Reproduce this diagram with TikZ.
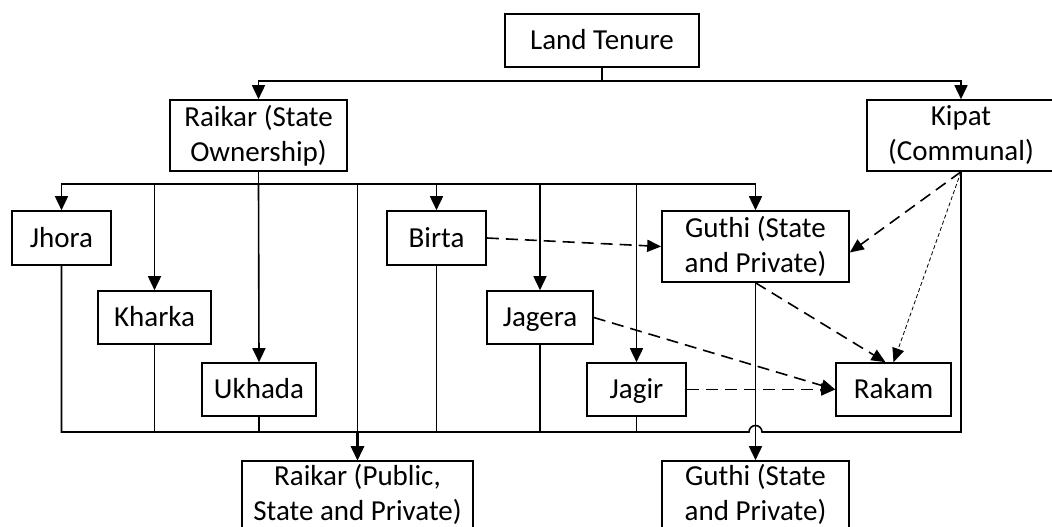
\documentclass[tikz,border=0pt]{standalone}
\usepackage{fontspec}
\setmainfont{Carlito}
\usetikzlibrary{arrows.meta}
\begin{document}
\begin{tikzpicture}[x=1pt,y=-1pt,
  box/.style={draw,line width=1.6pt,inner sep=0pt,align=center,font=\fontsize{29}{35}\selectfont},
  one/.style={box,text height=22pt,text depth=3.3pt,minimum height=53pt},
  two/.style={box,minimum height=71pt},
  con/.style={line width=1.6pt},
  arr/.style={con,-{Triangle[length=14pt,width=13pt]}},
  darr/.style={line width=1.6pt,dash pattern=on 12pt off 7pt,-{Triangle[length=14pt,width=12pt]}},
  dotarr/.style={line width=0.8pt,dash pattern=on 4pt off 2.5pt,-{Triangle[length=14pt,width=12pt]}}]
\useasboundingbox (0,0) rectangle (1052,527);
\clip (0,0) rectangle (1052,527);
% nodes
\node[one,minimum width=194pt] (tenure) at (602,40.5) {Land Tenure};
\node[two,minimum width=177pt] (raikar) at (258.5,135.5) {Raikar (State\\Ownership)};
\node[two,minimum width=188pt] (kipat) at (961,135.5) {Kipat\\(Communal)};
\node[one,minimum width=99pt,minimum height=54pt] (jhora) at (61.5,238) {Jhora};
\node[one,minimum width=99pt,minimum height=54pt] (birta) at (436.5,238) {Birta};
\node[two,minimum width=187pt] (guthi) at (755.5,246.5) {Guthi (State\\and Private)};
\node[one,minimum width=113pt] (kharka) at (154.5,317.5) {Kharka};
\node[one,minimum width=106pt] (jagera) at (540,317.5) {Jagera};
\node[one,minimum width=114pt] (ukhada) at (259,389.5) {Ukhada};
\node[one,minimum width=99pt] (jagir) at (636.5,389.5) {Jagir};
\node[one,minimum width=115pt] (rakam) at (893.5,389.5) {Rakam};
\node[two,minimum width=231pt,text depth=8pt] (raikarb) at (357.5,496.5) {Raikar (Public,\\State and Private)};
\node[two,minimum width=187pt,text depth=8pt] (guthib) at (755.5,496.5) {Guthi (State\\and Private)};
% top level
\coordinate (t1) at (tenure.south |- 0,81);
\draw[con] (tenure.south) -- (t1);
\draw[arr] (t1) -| (raikar.north);
\draw[arr] (t1) -| (kipat.north);
% raikar children
\coordinate (r1) at (raikar.south |- 0,184);
\draw[con] (raikar.south) -- (r1);
\draw[arr] (r1) -| (jhora.north);
\draw[arr] (r1) -| (kharka.north);
\draw[arr] (r1) -- (ukhada.north);
\draw[arr] (r1) -| (birta.north);
\draw[arr] (r1) -| (jagera.north);
\draw[arr] (r1) -| (jagir.north);
\draw[arr] (r1) -| (guthi.north);
\coordinate (p1) at (raikarb.north |- r1);
\draw[arr] (p1) -- (raikarb.north);
% bottom bus
\coordinate (bL) at (jhora.south |- 0,432);
\coordinate (bR) at (kipat.south |- 0,432);
\coordinate (h1) at (749,432);
\draw[con] (jhora.south) -- (bL) -- (h1) arc[start angle=180,end angle=360,radius=6.5] -- (bR) -- (kipat.south);
\draw[con] (kharka.south) -- (kharka.south |- bL);
\draw[con] (ukhada.south) -- (ukhada.south |- bL);
\draw[con] (birta.south) -- (birta.south |- bL);
\draw[con] (jagera.south) -- (jagera.south |- bL);
\draw[con] (jagir.south) -- (jagir.south |- bL);
\draw[arr,line width=2.2pt] (raikarb.north |- bL) -- (raikarb.north);
\draw[arr] (guthi.south) -- (guthib.north);
% dashed relations
\draw[darr] (birta.east) -- (guthi.west);
\draw[darr] (kipat.south) -- ([yshift=-6pt]guthi.east);
\draw[dotarr] (kipat.south) -- (rakam.north);
\draw[darr] (guthi.south) -- ([xshift=-8pt]rakam.north);
\draw[darr] (jagera.east) -- (rakam.west);
\draw[darr] (jagir.east) -- (rakam.west);
\end{tikzpicture}
\end{document}
